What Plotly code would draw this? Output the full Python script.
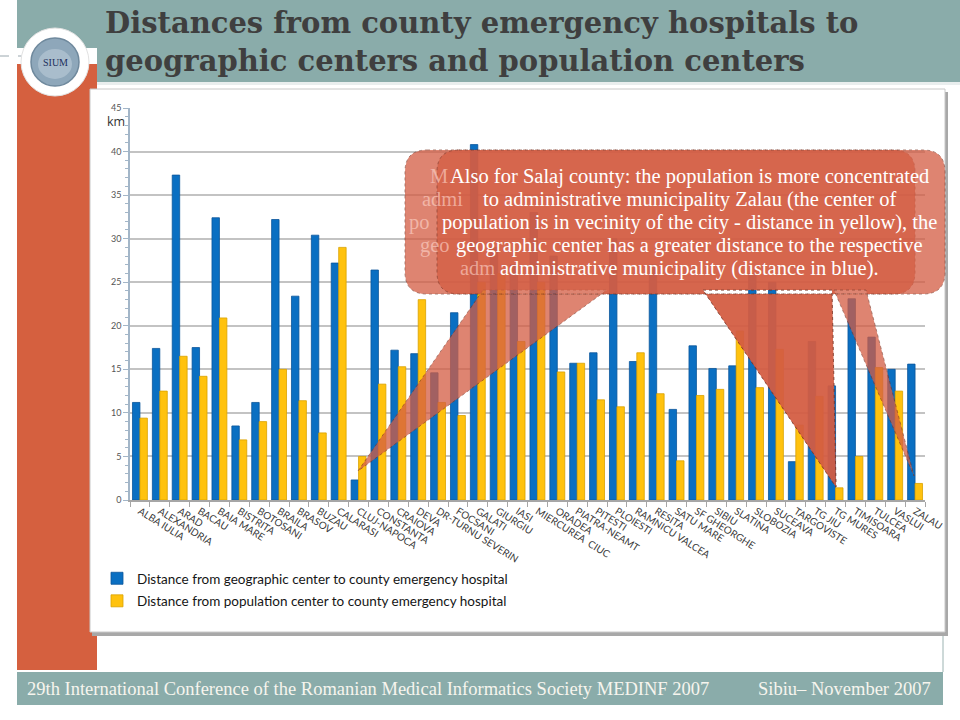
import plotly.graph_objects as go

# ---------------- data ----------------
categories = ["ALBA IULIA", "ALEXANDRIA", "ARAD", "BACAU", "BAIA MARE", "BISTRITA",
              "BOTOSANI", "BRAILA", "BRASOV", "BUZAU", "CALARASI", "CLUJ-NAPOCA",
              "CONSTANTA", "CRAIOVA", "DEVA", "DR-TURNU SEVERIN", "FOCSANI", "GALATI",
              "GIURGIU", "IASI", "MIERCUREA  CIUC", "ORADEA", "PIATRA-NEAMT", "PITESTI",
              "PLOIESTI", "RAMNICU VALCEA", "RESITA", "SATU MARE", "SF GHEORGHE", "SIBIU",
              "SLATINA", "SLOBOZIA", "SUCEAVA", "TARGOVISTE", "TG JIU", "TG MURES",
              "TIMISOARA", "TULCEA", "VASLUI", "ZALAU"]

geo_center_km = [11.2, 17.4, 37.3, 17.5, 32.4, 8.5, 11.2, 32.2, 23.4, 30.4, 27.2, 2.3,
                 26.4, 17.2, 16.8, 14.6, 21.5, 40.8, 29.0, 27.0, 33.0, 28.0, 15.7, 16.9,
                 30.0, 15.9, 27.0, 10.4, 17.7, 15.1, 15.4, 26.0, 25.0, 4.4, 18.2, 13.1,
                 23.1, 18.7, 15.0, 15.6]

pop_center_km = [9.4, 12.5, 16.5, 14.2, 20.9, 6.9, 9.0, 15.0, 11.4, 7.7, 29.0, 5.0,
                 13.3, 15.3, 23.0, 11.2, 9.7, 25.0, 26.0, 18.2, 25.0, 14.7, 15.7, 11.5,
                 10.7, 16.9, 12.2, 4.5, 12.0, 12.7, 19.4, 12.9, 17.3, 8.6, 11.9, 1.4,
                 5.0, 15.2, 12.5, 1.9]

series_names = ["Distance from geographic center to county emergency hospital",
                "Distance from population center to county emergency hospital"]

title_lines = ["Distances from county emergency hospitals to",
               "geographic centers and population centers"]

callout_lines = ["Also for Salaj county: the population is more concentrated",
                 "to administrative municipality Zalau (the center of",
                 "population is in vecinity of the city - distance in yellow), the",
                 "geographic center has a greater distance to the respective",
                 "administrative municipality (distance in blue)."]

ghost_fragments = ["M", "admi", "po", "geo", "adm"]

footer_left = "29th International Conference of the Romanian Medical Informatics Society MEDINF 2007"
footer_right = "Sibiu– November 2007"

# ---------------- helpers (pixel -> paper) ----------------
W, H = 960, 720
def X(px):
    return px / W
def Y(py):
    return 1 - py / H

def rect(x0, y0, x1, y1, **kw):
    d = dict(type="rect", xref="paper", yref="paper",
             x0=X(x0), x1=X(x1), y0=Y(y1), y1=Y(y0), layer="below")
    d.update(kw)
    return d

def rrect_path(x0, y0, x1, y1, r):
    p = [f"M {X(x0+r)},{Y(y0)}", f"L {X(x1-r)},{Y(y0)}",
         f"Q {X(x1)},{Y(y0)} {X(x1)},{Y(y0+r)}", f"L {X(x1)},{Y(y1-r)}",
         f"Q {X(x1)},{Y(y1)} {X(x1-r)},{Y(y1)}", f"L {X(x0+r)},{Y(y1)}",
         f"Q {X(x0)},{Y(y1)} {X(x0)},{Y(y1-r)}", f"L {X(x0)},{Y(y0+r)}",
         f"Q {X(x0)},{Y(y0)} {X(x0+r)},{Y(y0)}", "Z"]
    return " ".join(p)

def tri_path(pts):
    s = f"M {X(pts[0][0])},{Y(pts[0][1])}"
    for (a, b) in pts[1:]:
        s += f" L {X(a)},{Y(b)}"
    return s + " Z"

# ---------------- colours ----------------
TEAL = "#8AACAA"
ORANGE = "#D5603F"
BLUE = "#0A6FC2"
GOLD = "#FFC20E"

fig = go.Figure()
fig.add_trace(go.Bar(x=categories, y=geo_center_km, name=series_names[0],
                     marker=dict(color=BLUE, line=dict(color="#0B559A", width=0.8)),
                     legendgroup="a"))
fig.add_trace(go.Bar(x=categories, y=pop_center_km, name=series_names[1],
                     marker=dict(color=GOLD, line=dict(color="#D9A200", width=0.8)),
                     legendgroup="b"))

shapes = []
# header band and left bar
shapes.append(rect(17, 0, 960, 82, fillcolor=TEAL, line=dict(width=0)))
shapes.append(rect(17, 82, 960, 85, fillcolor="#E9EEEE", line=dict(width=0)))
shapes.append(rect(17, 62, 97, 670, fillcolor=ORANGE, line=dict(width=0)))
shapes.append(rect(0, 48, 97, 64, fillcolor="white", line=dict(width=0)))
shapes.append(dict(type="line", xref="paper", yref="paper", x0=X(0), x1=X(28),
                   y0=Y(56), y1=Y(56), line=dict(color="#9AA7AE", width=1, dash="dash"),
                   layer="below"))
# chart frame with shadow
shapes.append(rect(92, 92, 948, 636, fillcolor="#A8A8A8", line=dict(width=0)))
shapes.append(rect(90, 89, 945, 632, fillcolor="white", line=dict(color="#C8C8C8", width=1)))
# footer
shapes.append(rect(17, 672, 943, 705, fillcolor=TEAL, line=dict(width=0)))
shapes.append(dict(type="line", xref="paper", yref="paper", x0=X(943), x1=X(943),
                   y0=Y(636), y1=Y(672), line=dict(color="#9CB3B2", width=1), layer="below"))
# logo
shapes.append(dict(type="circle", xref="paper", yref="paper", layer="above",
                   x0=X(55-34), x1=X(55+34), y0=Y(62+34), y1=Y(62-34),
                   fillcolor="white", line=dict(color="#E2E2E2", width=1)))
shapes.append(dict(type="circle", xref="paper", yref="paper", layer="above",
                   x0=X(55-24), x1=X(55+24), y0=Y(62+24), y1=Y(62-24),
                   fillcolor="#8EA7BA", line=dict(color="#6F899D", width=1.5)))
shapes.append(dict(type="circle", xref="paper", yref="paper", layer="above",
                   x0=X(55-17), x1=X(55+17), y0=Y(64+15), y1=Y(64-15),
                   fillcolor="#A9BDCC", line=dict(width=0)))

# callouts (two overlapping semi-transparent speech bubbles)
box_a = rrect_path(405, 150, 915, 294, 22)
box_a += " " + tri_path([(483, 290), (607, 290), (358, 471)])
box_a += " " + tri_path([(703, 290), (832, 290), (836, 487)])
box_b = rrect_path(437, 150, 945, 294, 22)
box_b += " " + tri_path([(703, 290), (832, 290), (836, 487)])
box_b += " " + tri_path([(834, 290), (866, 290), (914, 476)])
for pth in (box_a, box_b):
    shapes.append(dict(type="path", xref="paper", yref="paper", path=pth,
                       fillcolor="rgb(212,92,66)", opacity=0.75, layer="above",
                       line=dict(color="rgb(120,50,35)", width=0.8, dash="dot")))

annotations = []
annotations.append(dict(text="<b>" + "<br>".join(title_lines) + "</b>",
                        x=X(103), y=Y(4), xref="paper", yref="paper",
                        xanchor="left", yanchor="top", align="left", showarrow=False,
                        font=dict(family="DejaVu Serif", size=29, color="#3F3F3F")))
annotations.append(dict(text="SIUM", x=X(55), y=Y(62), xref="paper", yref="paper",
                        xanchor="center", yanchor="middle", showarrow=False,
                        font=dict(family="Liberation Serif", size=10, color="#1D2F5C")))
annotations.append(dict(text=footer_left, x=X(25), y=Y(689), xref="paper", yref="paper",
                        xanchor="left", yanchor="middle", showarrow=False,
                        font=dict(family="Liberation Serif", size=18.5, color="#F7F5EE")))
annotations.append(dict(text=footer_right, x=X(933), y=Y(689), xref="paper", yref="paper",
                        xanchor="right", yanchor="middle", showarrow=False,
                        font=dict(family="Liberation Serif", size=18.5, color="#F7F5EE")))
annotations.append(dict(text="km", x=X(105), y=Y(121), xref="paper", yref="paper",
                        xanchor="left", yanchor="middle", showarrow=False,
                        font=dict(family="Open Sans", size=12.5, color="#333333")))
# ghost text fragments of the overlapped bubble (right edge just before each line)
line_y = [176, 199, 222, 245, 268]
ghost_right = [450, 465, 432, 452, 497]
for frag, gx, gy in zip(ghost_fragments, ghost_right, line_y):
    annotations.append(dict(text=frag, x=X(gx), y=Y(gy), xref="paper", yref="paper",
                            xanchor="right", yanchor="middle", showarrow=False,
                            font=dict(family="Liberation Serif", size=20.5,
                                      color="rgba(255,215,205,0.6)")))
for t, gy in zip(callout_lines, line_y):
    annotations.append(dict(text=t, x=X(689), y=Y(gy), xref="paper", yref="paper",
                            xanchor="center", yanchor="middle", showarrow=False,
                            font=dict(family="Liberation Serif", size=20.5, color="white")))

fig.update_layout(
    width=W, height=H,
    margin=dict(l=0, r=0, t=0, b=0),
    paper_bgcolor="white",
    plot_bgcolor="rgba(0,0,0,0)",
    barmode="group", bargap=0.25, bargroupgap=0.0,
    showlegend=True,
    legend=dict(x=X(97), y=Y(563), xanchor="left", yanchor="top",
                bgcolor="rgba(0,0,0,0)", tracegroupgap=2,
                font=dict(family="Lato", size=13.5, color="#151515")),
    shapes=shapes,
    annotations=annotations,
    xaxis=dict(domain=[X(130), X(925)], type="category",
               tickangle=32, tickson="boundaries", ticks="outside", ticklen=5,
               tickcolor="#A6A6A6", showline=True, linecolor="#A6A6A6", linewidth=1.5,
               tickfont=dict(family="Lato", size=10, color="#3A3A3A"),
               showgrid=False, automargin=False, fixedrange=True),
    yaxis=dict(domain=[Y(500), Y(108)], range=[0, 45], dtick=5,
               showgrid=True, gridcolor="#C3C3C3", gridwidth=1.6,
               showline=True, linecolor="#A3B6C8", linewidth=1.5,
               ticks="outside", ticklen=5, tickcolor="#A3B6C8",
               minor=dict(dtick=1, ticks="outside", ticklen=3, tickcolor="#A3B6C8",
                          showgrid=False),
               tickfont=dict(family="Lato", size=9, color="#555555"),
               zeroline=False, automargin=False, fixedrange=True),
)

fig.write_html("out.html", config={"displayModeBar": False},
               post_script="document.body.style.margin='0';document.body.style.overflow='hidden';")
